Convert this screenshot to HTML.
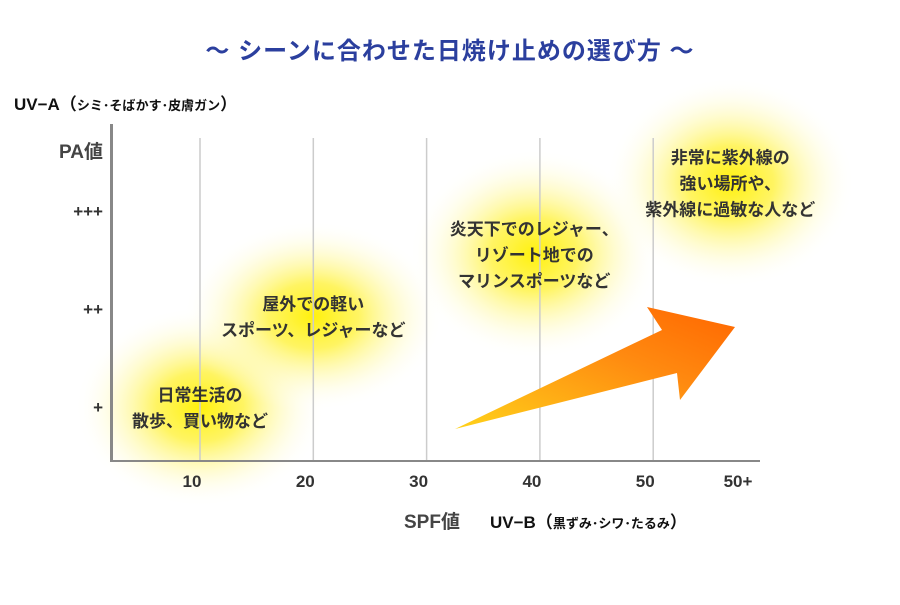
<!DOCTYPE html>
<html><head><meta charset="utf-8"><style>
body{margin:0;background:#fff}
svg text{font-family:"Liberation Sans","Noto Sans CJK JP",sans-serif;font-weight:bold}
</style></head><body>
<svg width="900" height="600" viewBox="0 0 900 600">
<defs>
<radialGradient id="glow"><stop offset="0" stop-color="#fff000" stop-opacity="0.95"/><stop offset="0.35" stop-color="#fff23c" stop-opacity="0.8"/><stop offset="0.7" stop-color="#fff8a0" stop-opacity="0.35"/><stop offset="1" stop-color="#fff" stop-opacity="0"/></radialGradient>
<linearGradient id="arr" x1="0" y1="1" x2="1" y2="0"><stop offset="0" stop-color="#ffd21a"/><stop offset="0.6" stop-color="#ff8a10"/><stop offset="1" stop-color="#ff6600"/></linearGradient>
</defs>
<text x="450" y="59" text-anchor="middle" font-size="24" fill="#2b3f9e" letter-spacing="1">～ シーンに合わせた日焼け止めの選び方 ～</text>
<text x="14" y="110" font-size="17" fill="#111">UV−A（<tspan font-size="13">シミ･そばかす･皮膚ガン</tspan>）</text>
<g id="glows"></g>
<g id="grid"></g>
<rect x="110" y="124" width="3" height="338" fill="#888"/>
<rect x="110" y="460" width="650" height="2" fill="#888"/>
<text x="103" y="158" text-anchor="end" font-size="19" fill="#444">PA値</text>
<g id="yt"></g><g id="xt"></g>
<polygon points="455,429 662,330 647,307 735,327 680,400 677,373" fill="url(#arr)"/>
<g id="labels"></g>
<text x="404" y="528" font-size="19" fill="#444">SPF値</text>
<text x="490" y="528" font-size="17" fill="#111">UV−B（<tspan font-size="13">黒ずみ･シワ･たるみ</tspan>）</text>
</svg>
<script>
const xTicks=["10","20","30","40","50","50+"];
const yTicks=["+","++","+++"];
const sceneX=[1,2,3.95,5.68];
const sceneY=[1,1.93,2.56,3.29];
const sceneText=[["日常生活の","散歩、買い物など"],["屋外での軽い","スポーツ、レジャーなど"],["炎天下でのレジャー、","リゾート地での","マリンスポーツなど"],["非常に紫外線の","強い場所や、","紫外線に過敏な人など"]];
const gx=i=>200+(i-1)*113.3, gy=v=>407-(v-1)*98;
const ns="http://www.w3.org/2000/svg";
const mk=(t,a,p)=>{const e=document.createElementNS(ns,t);for(const k in a)e.setAttribute(k,a[k]);document.getElementById(p).appendChild(e);return e;};
xTicks.forEach((t,i)=>{
 if(i<5){const l=mk('line',{x1:gx(i+1),x2:gx(i+1),y1:138,y2:460,stroke:'#ccc','stroke-width':1.5},'grid');
 
 }
 const e=mk('text',{x:i<5?gx(i+1)-8:738,y:487,'text-anchor':'middle','font-size':17,fill:'#333'},'xt');e.textContent=t;
 
 
});
yTicks.forEach((t,i)=>{const e=mk('text',{x:103,y:gy(i+1)+6,'text-anchor':'end','font-size':17,fill:'#333'},'yt');e.textContent=t;
 
 });
const rads=[[125,100],[130,95],[125,105],[125,105]];
sceneText.forEach((lines,i)=>{
 const cx=gx(sceneX[i]), cy=gy(sceneY[i]);
 const g=mk('ellipse',{cx:cx,cy:cy,rx:rads[i][0],ry:rads[i][1],fill:'url(#glow)'},'glows');
 
 
 const n=lines.length;
 lines.forEach((s,j)=>{const e=mk('text',{x:cx,y:cy+(j-(n-1)/2)*26+7,'text-anchor':'middle','font-size':17,fill:'#333'},'labels');e.textContent=s;
 
 });
});
</script>
</body></html>
